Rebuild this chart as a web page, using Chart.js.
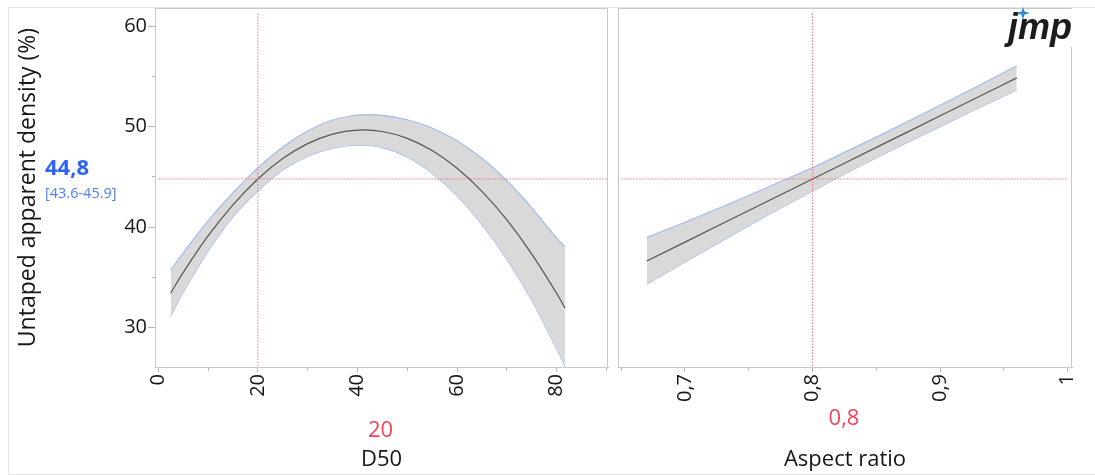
<!DOCTYPE html>
<html>
<head>
<meta charset="utf-8">
<script src="https://cdn.jsdelivr.net/npm/chart.js@4.4.1/dist/chart.umd.min.js"></script>
<style>
  html, body { margin: 0; padding: 0; background: #ffffff; }
  #wrap { position: relative; width: 1095px; height: 475px; overflow: hidden; background: #fff; }
  #frame { position: absolute; left: 8px; top: 7px; width: 1092px; height: 468px; border: 1px solid #e4e4e4; box-sizing: border-box; }
  #c1 { position: absolute; left: 0; top: 0; }
  #c2 { position: absolute; left: 612px; top: 0; }
</style>
</head>
<body>
<div id="wrap">
  <div id="frame"></div>
  <canvas id="c1" width="612" height="475"></canvas>
  <canvas id="c2" width="483" height="475"></canvas>
</div>
<script>
// ---------- DATA ----------
const yTitle = 'Untaped apparent density (%)';
const predicted = 44.8;
const predictedLabel = '44,8';
const intervalLabel = '[43.6-45.9]';

// Panel 1: D50
const d50Title = 'D50';
const d50Current = 20;
const d50CurrentLabel = '20';
const d50 =      [2.5,   5,     10,    15,    20,    25,    30,    35,    40,    45,    50,    55,    60,    65,    70,    75,    80,    81.7];
const d50Fit =   [33.45, 35.48, 39.13, 42.23, 44.80, 46.83, 48.31, 49.26, 49.66, 49.52, 48.84, 47.62, 45.86, 43.56, 40.72, 37.33, 33.41, 31.95];
const d50Upper = [35.73, 37.43, 40.63, 43.43, 45.90, 47.98, 49.56, 50.66, 51.16, 51.12, 50.69, 49.87, 48.61, 46.86, 44.62, 41.93, 38.91, 38.05];
const d50Lower = [31.17, 33.53, 37.63, 41.03, 43.60, 45.68, 47.06, 47.86, 48.16, 47.92, 46.99, 45.37, 43.11, 40.26, 36.82, 32.73, 27.91, 26.15];
const d50TickValues = [0, 20, 40, 60, 80];
const d50TickLabels = ['0', '20', '40', '60', '80'];
const d50MinorTicks = [10, 30, 50, 70, 90];

// Panel 2: Aspect ratio
const arTitle = 'Aspect ratio';
const arCurrent = 0.8;
const arCurrentLabel = '0,8';
const aspect =      [0.67,  0.70,  0.725, 0.75,  0.775, 0.80,  0.825, 0.85,  0.875, 0.90,  0.925, 0.95,  0.96];
const aspectFit =   [36.64, 38.52, 40.09, 41.66, 43.23, 44.80, 46.37, 47.94, 49.51, 51.08, 52.65, 54.22, 54.85];
const aspectUpper = [38.96, 40.50, 41.81, 43.16, 44.55, 45.90, 47.44, 48.96, 50.53, 52.13, 53.75, 55.39, 56.05];
const aspectLower = [34.32, 36.54, 38.37, 40.16, 41.91, 43.60, 45.30, 46.92, 48.49, 50.03, 51.55, 53.05, 53.65];
const arTickValues = [0.7, 0.8, 0.9, 1.0];
const arTickLabels = ['0,7', '0,8', '0,9', '1'];
const arMinorTicks = [0.65, 0.75, 0.85, 0.95];

// Y axis
const yTickValues = [30, 40, 50, 60];
const yTickLabels = ['30', '40', '50', '60'];
const yMinorTicks = [35, 45, 55];

// ---------- STYLE ----------
const FONT = "'Open Sans', 'Noto Sans', sans-serif";
const TEXT = '#161616';
const FRAME = '#c9c9c9';
const TICKC = '#b5b5b5';
const BAND = '#d9d9d9';
const BAND_EDGE = '#a3bbf0';
const FIT = '#555555';
const CROSS = 'rgba(238, 96, 118, 0.85)';
const REDTXT = '#f0455b';
const BLUE = '#2d63f5';
const BLUE2 = '#4f7ff7';

const Y_MIN = 26.1, Y_MAX = 61.8;

function pts(xs, ys) { return xs.map((x, i) => ({ x: x, y: ys[i] })); }

function datasets(xs, fit, up, lo, cur, xlo, xhi, tension) {
  return [
    { data: [{ x: xlo, y: predicted }, { x: xhi, y: predicted }], borderColor: CROSS, borderWidth: 1, borderDash: [1.5, 1.5], pointRadius: 0, fill: false },
    { data: [{ x: cur, y: 26.2 }, { x: cur, y: 61.3 }], borderColor: CROSS, borderWidth: 1, borderDash: [1.5, 1.5], pointRadius: 0, fill: false },
    { data: pts(xs, fit), borderColor: FIT, borderWidth: 1.2, pointRadius: 0, fill: false, tension: tension },
    { data: pts(xs, up), borderColor: BAND_EDGE, borderWidth: 1.2, pointRadius: 0, fill: '+1', backgroundColor: BAND, tension: tension },
    { data: pts(xs, lo), borderColor: BAND_EDGE, borderWidth: 1.2, pointRadius: 0, fill: false, tension: tension }
  ];
}

function xScale(min, max, majors, labels, minors, title) {
  const all = majors.concat(minors).sort((a, b) => a - b);
  return {
    type: 'linear', min: min, max: max, position: 'bottom',
    afterBuildTicks: s => { s.ticks = all.map(v => ({ value: v })); },
    afterFit: s => { s.height = 108; s.paddingLeft = 0; s.paddingRight = 0; },
    grid: {
      drawOnChartArea: false, drawTicks: true, tickLength: 5, color: TICKC, tickColor: TICKC,
      tickBorderDash: ctx => (ctx.tick && majors.indexOf(ctx.tick.value) < 0) ? [3, 100] : []
    },
    border: { display: true, color: FRAME, width: 1 },
    ticks: {
      autoSkip: false, minRotation: 90, maxRotation: 90, padding: 2, color: TEXT,
      font: { family: FONT, size: 20 },
      callback: v => { const i = majors.indexOf(v); return i >= 0 ? labels[i] : ''; }
    },
    title: { display: true, text: title, color: TEXT, font: { family: FONT, size: 22 }, padding: { top: 0, bottom: 2 } }
  };
}

const framePlugin = {
  id: 'frameLines',
  afterDraw(chart) {
    const a = chart.chartArea, ctx = chart.ctx;
    ctx.save();
    ctx.strokeStyle = FRAME; ctx.lineWidth = 1;
    ctx.beginPath();
    ctx.moveTo(Math.round(a.left) + 0.5, Math.round(a.top) + 0.5);
    ctx.lineTo(Math.round(a.right) - 0.5, Math.round(a.top) + 0.5);
    ctx.lineTo(Math.round(a.right) - 0.5, Math.round(a.bottom));
    ctx.moveTo(Math.round(a.left) + 0.5, Math.round(a.top) + 0.5);
    ctx.lineTo(Math.round(a.left) + 0.5, Math.round(a.bottom));
    ctx.stroke();
    ctx.restore();
  }
};

const leftText = {
  id: 'leftText',
  afterDraw(chart) {
    const ctx = chart.ctx, a = chart.chartArea;
    ctx.save();
    ctx.textAlign = 'left'; ctx.textBaseline = 'alphabetic';
    ctx.fillStyle = BLUE; ctx.font = "bold 22px " + FONT;
    ctx.fillText(predictedLabel, 45, 175);
    ctx.fillStyle = BLUE2; ctx.font = "14.5px " + FONT;
    ctx.fillText(intervalLabel, 45, 198);
    ctx.textAlign = 'center';
    ctx.fillStyle = REDTXT; ctx.font = "22px " + FONT;
    ctx.fillText(d50CurrentLabel, (a.left + a.right) / 2 - 1, 437);
    ctx.restore();
  }
};

const rightText = {
  id: 'rightText',
  afterDraw(chart) {
    const ctx = chart.ctx, a = chart.chartArea;
    ctx.save();
    ctx.textAlign = 'center'; ctx.textBaseline = 'alphabetic';
    ctx.fillStyle = REDTXT; ctx.font = "22px " + FONT;
    ctx.fillText(arCurrentLabel, (a.left + a.right) / 2 - 1, 425);
    // logo
    ctx.fillStyle = '#ffffff';
    ctx.fillRect(392, 9, 74, 38);
    ctx.fillStyle = '#1b1b1b';
    ctx.font = "italic bold 36px 'Liberation Sans', sans-serif";
    ctx.textAlign = 'left';
    ctx.fillText('jmp', 396, 39);
    // sparkle
    ctx.fillStyle = '#2a86d6';
    const cx = 411, cy = 13;
    ctx.beginPath();
    ctx.moveTo(cx, cy - 6); ctx.lineTo(cx + 1.5, cy - 1.5); ctx.lineTo(cx + 7, cy);
    ctx.lineTo(cx + 1.5, cy + 1.5); ctx.lineTo(cx, cy + 7); ctx.lineTo(cx - 1.5, cy + 1.5);
    ctx.lineTo(cx - 7, cy); ctx.lineTo(cx - 1.5, cy - 1.5); ctx.closePath();
    ctx.fill();
    ctx.restore();
  }
};

const commonPlugins = { legend: { display: false }, tooltip: { enabled: false } };

const yAll = yTickValues.concat(yMinorTicks).sort((a, b) => a - b);

new Chart(document.getElementById('c1'), {
  type: 'line',
  data: { datasets: datasets(d50, d50Fit, d50Upper, d50Lower, d50Current, 0, 90, 0.4) },
  options: {
    responsive: false, animation: false,
    layout: { padding: { left: 0, top: 8, right: 4, bottom: 0 } },
    plugins: commonPlugins,
    scales: {
      x: xScale(-0.65, 90.3, d50TickValues, d50TickLabels, d50MinorTicks, d50Title),
      y: {
        type: 'linear', min: Y_MIN, max: Y_MAX,
        afterBuildTicks: s => { s.ticks = yAll.map(v => ({ value: v })); },
        afterFit: s => { s.width = 155; s.paddingTop = 0; s.paddingBottom = 0; },
        grid: {
          drawOnChartArea: false, drawTicks: true, tickLength: 7, color: TICKC, tickColor: TICKC,
          tickBorderDash: ctx => (ctx.tick && yTickValues.indexOf(ctx.tick.value) < 0) ? [0, 4, 3, 100] : []
        },
        border: { display: true, color: FRAME, width: 1 },
        ticks: {
          autoSkip: false, padding: 1, color: TEXT, font: { family: FONT, size: 20 },
          callback: v => { const i = yTickValues.indexOf(v); return i >= 0 ? yTickLabels[i] : ''; }
        },
        title: { display: true, text: yTitle, color: TEXT, font: { family: FONT, size: 23 }, padding: { top: 15, bottom: 0 } }
      }
    }
  },
  plugins: [framePlugin, leftText]
});

new Chart(document.getElementById('c2'), {
  type: 'line',
  data: { datasets: datasets(aspect, aspectFit, aspectUpper, aspectLower, arCurrent, 0.65, 1.0, 0) },
  options: {
    responsive: false, animation: false,
    layout: { padding: { left: 6, top: 8, right: 23, bottom: 0 } },
    plugins: commonPlugins,
    scales: {
      x: xScale(0.6475, 1.0033, arTickValues, arTickLabels, arMinorTicks, arTitle),
      y: { type: 'linear', min: Y_MIN, max: Y_MAX, display: false }
    }
  },
  plugins: [framePlugin, rightText]
});
</script>
</body>
</html>
